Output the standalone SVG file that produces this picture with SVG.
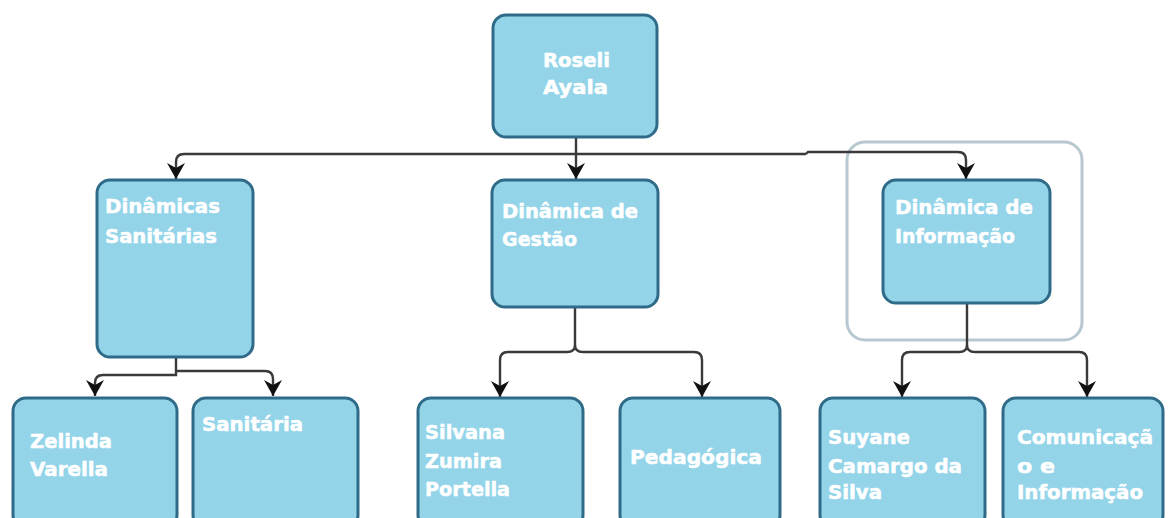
<svg xmlns="http://www.w3.org/2000/svg" width="1172" height="518" viewBox="0 0 1172 518">
<defs>
<style>
.box{fill:#93d4e9;stroke:#2f6b88;stroke-width:3}
.t{font-family:"DejaVu Sans","Liberation Sans",sans-serif;font-weight:bold;font-size:19px;fill:#ffffff;stroke:#ffffff;stroke-width:0.5}
.c{fill:none;stroke:#3a3a3a;stroke-width:2.4}
.frame{fill:none;stroke:#b7c8d1;stroke-width:3}
</style>
<marker id="arr" markerUnits="userSpaceOnUse" markerWidth="20" markerHeight="20" refX="16" refY="9" orient="auto">
<path d="M0,0 L16,9 L0,18 L5,9 Z" fill="#111111"/>
</marker>
</defs>
<rect width="1172" height="518" fill="#ffffff"/>

<rect class="frame" x="847" y="142" width="235" height="198" rx="18"/>

<g id="connectors">
<path class="c" d="M576,137 V179" marker-end="url(#arr)"/>
<path class="c" d="M806,154 H184 Q176,154 176,162 V179" marker-end="url(#arr)"/>
<path class="c" d="M806,154 L808,152 H958 Q966,152 966,160 V179" marker-end="url(#arr)"/>
<path class="c" d="M176,357 V375 H103 Q95,375 95,383 V396" marker-end="url(#arr)"/>
<path class="c" d="M176,371 H265 Q273,371 273,379 V396" marker-end="url(#arr)"/>
<path class="c" d="M575,307 V345 Q575,352 567,352 H508 Q500,352 500,360 V397" marker-end="url(#arr)"/>
<path class="c" d="M575,345 Q575,352 583,352 H694 Q702,352 702,360 V397" marker-end="url(#arr)"/>
<path class="c" d="M967,303 V345 Q967,352 959,352 H910 Q902,352 902,360 V397" marker-end="url(#arr)"/>
<path class="c" d="M967,345 Q967,352 975,352 H1079 Q1087,352 1087,360 V397" marker-end="url(#arr)"/>
</g>

<g id="n-roseli">
<rect class="box" x="493" y="15" width="164" height="122" rx="13"/>
<text class="t" x="543" y="67" textLength="67" lengthAdjust="spacingAndGlyphs">Roseli</text>
<text class="t" x="543" y="94" textLength="65" lengthAdjust="spacingAndGlyphs">Ayala</text>
</g>

<g id="n-sanitarias">
<rect class="box" x="97" y="180" width="156" height="177" rx="13"/>
<text class="t" x="105" y="213" textLength="115" lengthAdjust="spacingAndGlyphs">Dinâmicas</text>
<text class="t" x="105" y="243" textLength="112" lengthAdjust="spacingAndGlyphs">Sanitárias</text>
</g>

<g id="n-gestao">
<rect class="box" x="492" y="180" width="166" height="127" rx="13"/>
<text class="t" x="502" y="218" textLength="136" lengthAdjust="spacingAndGlyphs">Dinâmica de</text>
<text class="t" x="502" y="246" textLength="75" lengthAdjust="spacingAndGlyphs">Gestão</text>
</g>

<g id="n-informacao">
<rect class="box" x="883" y="180" width="167" height="123" rx="13"/>
<text class="t" x="895" y="214" textLength="138" lengthAdjust="spacingAndGlyphs">Dinâmica de</text>
<text class="t" x="895" y="243" textLength="120" lengthAdjust="spacingAndGlyphs">Informação</text>
</g>

<g id="n-zelinda">
<rect class="box" x="13" y="398" width="164" height="130" rx="13"/>
<text class="t" x="30" y="448" textLength="82" lengthAdjust="spacingAndGlyphs">Zelinda</text>
<text class="t" x="30" y="476" textLength="78" lengthAdjust="spacingAndGlyphs">Varella</text>
</g>

<g id="n-sanitaria">
<rect class="box" x="193" y="398" width="165" height="130" rx="13"/>
<text class="t" x="202" y="431" textLength="101" lengthAdjust="spacingAndGlyphs">Sanitária</text>
</g>

<g id="n-silvana">
<rect class="box" x="418" y="398" width="165" height="130" rx="13"/>
<text class="t" x="425" y="439" textLength="80" lengthAdjust="spacingAndGlyphs">Silvana</text>
<text class="t" x="425" y="468" textLength="77" lengthAdjust="spacingAndGlyphs">Zumira</text>
<text class="t" x="425" y="496" textLength="85" lengthAdjust="spacingAndGlyphs">Portella</text>
</g>

<g id="n-pedagogica">
<rect class="box" x="620" y="398" width="160" height="130" rx="13"/>
<text class="t" x="630" y="464" textLength="132" lengthAdjust="spacingAndGlyphs">Pedagógica</text>
</g>

<g id="n-suyane">
<rect class="box" x="820" y="398" width="165" height="130" rx="13"/>
<text class="t" x="828" y="444" textLength="82" lengthAdjust="spacingAndGlyphs">Suyane</text>
<text class="t" x="828" y="473" textLength="134" lengthAdjust="spacingAndGlyphs">Camargo da</text>
<text class="t" x="828" y="499" textLength="54" lengthAdjust="spacingAndGlyphs">Silva</text>
</g>

<g id="n-comunicacao">
<rect class="box" x="1003" y="398" width="160" height="130" rx="13"/>
<text class="t" x="1017" y="444" textLength="136" lengthAdjust="spacingAndGlyphs">Comunicaçã</text>
<text class="t" x="1017" y="473" textLength="38" lengthAdjust="spacingAndGlyphs">o e</text>
<text class="t" x="1017" y="499" textLength="126" lengthAdjust="spacingAndGlyphs">Informação</text>
</g>
</svg>
